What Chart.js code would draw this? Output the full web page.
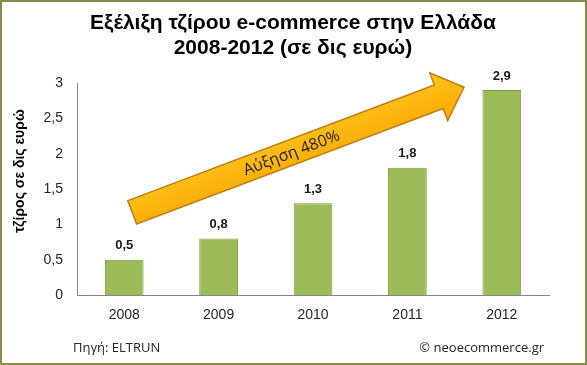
<!DOCTYPE html>
<html>
<head>
<meta charset="utf-8">
<script src="https://cdn.jsdelivr.net/npm/chart.js@4/dist/chart.umd.min.js"></script>
<style>
  html, body { margin: 0; padding: 0; background: #ffffff; }
  #wrap { width: 587px; height: 365px; position: relative; }
</style>
</head>
<body>
<div id="wrap"><canvas id="myChart" width="587" height="365"></canvas></div>
<script>
// data
var years = ["2008", "2009", "2010", "2011", "2012"];
var turnover = [0.5, 0.8, 1.3, 1.8, 2.9];
var titleLines = ["Εξέλιξη τζίρου e-commerce στην Ελλάδα", "2008-2012 (σε δις ευρώ)"];
var yTitle = "τζίρος σε δις ευρώ";
var arrowText = "Αύξηση 480%";
var sourceText = "Πηγή: ELTRUN";
var creditText = "© neoecommerce.gr";

function fmt(v) {
    return String(v).replace(".", ",");
}

var decor = {
    id: "decor",
    beforeDraw: function(chart) {
        var c = chart.ctx;
        c.save();
        c.fillStyle = "#ffffff";
        c.fillRect(0, 0, chart.width, chart.height);
        c.restore();
    },
    afterDatasetsDraw: function(chart) {
        var c = chart.ctx;
        var xs = chart.scales.x, ys = chart.scales.y;
        c.save();

        // value labels above bars
        c.font = "bold 13px 'Liberation Sans', Arial, sans-serif";
        c.fillStyle = "#1a1a1a";
        c.textAlign = "center";
        c.textBaseline = "middle";
        chart.getDatasetMeta(0).data.forEach(function(bar, i) {
            c.fillText(fmt(turnover[i]), bar.x, bar.y - 14);
        });

        // big arrow
        var x0 = xs.getPixelForValue(0) + 8, y0 = ys.getPixelForValue(1.17);
        var x1 = xs.getPixelForValue(3.6), y1 = ys.getPixelForValue(2.94);
        var len = Math.hypot(x1 - x0, y1 - y0);
        var ang = Math.atan2(y1 - y0, x1 - x0);
        var hw = 12.5, headW = 25.5, headL = 27;
        c.translate(x0, y0);
        c.rotate(ang);
        var g = c.createLinearGradient(0, -headW, 0, headW);
        g.addColorStop(0, "#ffc51e");
        g.addColorStop(1, "#f7a800");
        c.beginPath();
        c.moveTo(0, -hw);
        c.lineTo(len - headL, -hw);
        c.lineTo(len - headL, -headW);
        c.lineTo(len, 0);
        c.lineTo(len - headL, headW);
        c.lineTo(len - headL, hw);
        c.lineTo(0, hw);
        c.closePath();
        c.fillStyle = g;
        c.fill();
        c.lineWidth = 1.5;
        c.strokeStyle = "#c67c10";
        c.stroke();

        c.font = "16px 'Open Sans', sans-serif";
        c.fillStyle = "#1e1e1e";
        c.textAlign = "center";
        c.textBaseline = "middle";
        c.fillText(arrowText, 170, 1);
        c.restore();
    },
    afterDraw: function(chart) {
        var c = chart.ctx;
        c.save();

        // title
        c.font = "bold 21px 'Liberation Sans', Arial, sans-serif";
        c.fillStyle = "#000000";
        c.textAlign = "center";
        c.textBaseline = "middle";
        c.fillText(titleLines[0], 293, 23);
        c.fillText(titleLines[1], 293, 48);

        // y axis title
        c.save();
        c.translate(20, 171);
        c.rotate(-Math.PI / 2);
        c.font = "bold 14px 'Liberation Sans', Arial, sans-serif";
        c.fillText(yTitle, 0, 0);
        c.restore();

        // footer
        c.font = "13px 'Open Sans', sans-serif";
        c.fillStyle = "#262626";
        c.textAlign = "left";
        c.fillText(sourceText, 73, 348);
        c.textAlign = "right";
        c.fillText(creditText, 544, 348);

        // frame
        c.strokeStyle = "#8a8a4a";
        c.lineWidth = 2;
        c.strokeRect(1, 1, chart.width - 2, chart.height - 2);
        c.restore();
    }
};

var cx = document.getElementById("myChart");
var myChart = new Chart(cx, {
    type: "bar",
    data: {
        labels: years,
        datasets: [{
            data: turnover,
            backgroundColor: "#9bbb59",
            borderColor: "#7d9b3c",
            borderWidth: 1,
            barPercentage: 0.41,
            categoryPercentage: 1
        }]
    },
    options: {
        responsive: false,
        animation: false,
        layout: { padding: { left: 0, top: 83, right: 38, bottom: 0 } },
        plugins: {
            legend: { display: false },
            title: { display: false },
            tooltip: { enabled: false }
        },
        scales: {
            x: {
                grid: { display: false, drawTicks: false },
                border: { color: "#868686", width: 1 },
                ticks: {
                    padding: 12,
                    color: "#262626",
                    font: { family: "'Liberation Sans', Arial, sans-serif", size: 14 }
                },
                afterFit: function(scale) { scale.height = 70; }
            },
            y: {
                min: 0,
                max: 3,
                grid: { display: false, drawTicks: false },
                border: { color: "#868686", width: 1 },
                ticks: {
                    stepSize: 0.5,
                    padding: 14,
                    color: "#262626",
                    font: { family: "'Liberation Sans', Arial, sans-serif", size: 14 },
                    callback: function(v) { return fmt(v); }
                },
                afterFit: function(scale) { scale.width = 77; }
            }
        }
    },
    plugins: [decor]
});
</script>
</body>
</html>
